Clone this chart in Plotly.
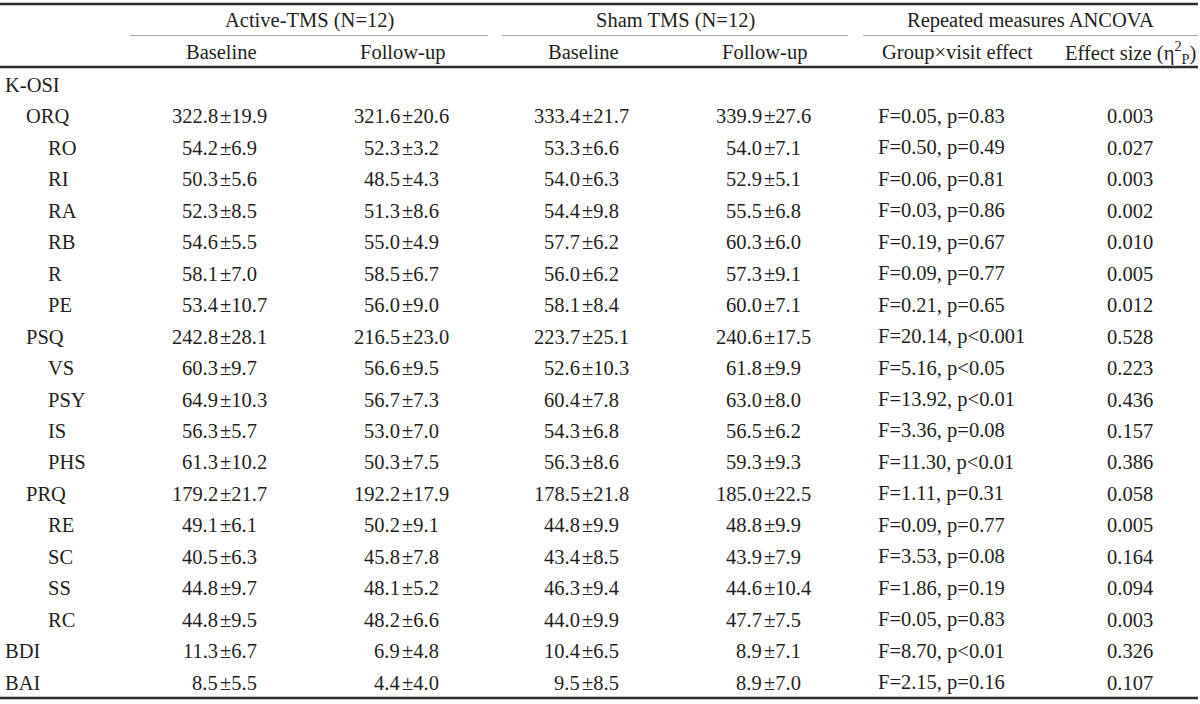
import plotly.graph_objects as go

# ---------------- data ----------------
row_labels = ["K-OSI", "ORQ", "RO", "RI", "RA", "RB", "R", "PE", "PSQ", "VS", "PSY",
              "IS", "PHS", "PRQ", "RE", "SC", "SS", "RC", "BDI", "BAI"]
row_levels = [0, 1, 2, 2, 2, 2, 2, 2, 1, 2, 2, 2, 2, 1, 2, 2, 2, 2, 0, 0]

active_base_mean = [None, 322.8, 54.2, 50.3, 52.3, 54.6, 58.1, 53.4, 242.8, 60.3, 64.9, 56.3, 61.3, 179.2, 49.1, 40.5, 44.8, 44.8, 11.3, 8.5]
active_base_sd   = [None, 19.9, 6.9, 5.6, 8.5, 5.5, 7.0, 10.7, 28.1, 9.7, 10.3, 5.7, 10.2, 21.7, 6.1, 6.3, 9.7, 9.5, 6.7, 5.5]
active_fu_mean   = [None, 321.6, 52.3, 48.5, 51.3, 55.0, 58.5, 56.0, 216.5, 56.6, 56.7, 53.0, 50.3, 192.2, 50.2, 45.8, 48.1, 48.2, 6.9, 4.4]
active_fu_sd     = [None, 20.6, 3.2, 4.3, 8.6, 4.9, 6.7, 9.0, 23.0, 9.5, 7.3, 7.0, 7.5, 17.9, 9.1, 7.8, 5.2, 6.6, 4.8, 4.0]
sham_base_mean   = [None, 333.4, 53.3, 54.0, 54.4, 57.7, 56.0, 58.1, 223.7, 52.6, 60.4, 54.3, 56.3, 178.5, 44.8, 43.4, 46.3, 44.0, 10.4, 9.5]
sham_base_sd     = [None, 21.7, 6.6, 6.3, 9.8, 6.2, 6.2, 8.4, 25.1, 10.3, 7.8, 6.8, 8.6, 21.8, 9.9, 8.5, 9.4, 9.9, 6.5, 8.5]
sham_fu_mean     = [None, 339.9, 54.0, 52.9, 55.5, 60.3, 57.3, 60.0, 240.6, 61.8, 63.0, 56.5, 59.3, 185.0, 48.8, 43.9, 44.6, 47.7, 8.9, 8.9]
sham_fu_sd       = [None, 27.6, 7.1, 5.1, 6.8, 6.0, 9.1, 7.1, 17.5, 9.9, 8.0, 6.2, 9.3, 22.5, 9.9, 7.9, 10.4, 7.5, 7.1, 7.0]
f_values         = [None, 0.05, 0.50, 0.06, 0.03, 0.19, 0.09, 0.21, 20.14, 5.16, 13.92, 3.36, 11.30, 1.11, 0.09, 3.53, 1.86, 0.05, 8.70, 2.15]
p_texts          = [None, "=0.83", "=0.49", "=0.81", "=0.86", "=0.67", "=0.77", "=0.65", "<0.001", "<0.05", "<0.01",
                    "=0.08", "<0.01", "=0.31", "=0.77", "=0.08", "=0.19", "=0.83", "<0.01", "=0.16"]
effect_sizes     = [None, 0.003, 0.027, 0.003, 0.002, 0.010, 0.005, 0.012, 0.528, 0.223, 0.436, 0.157, 0.386,
                    0.058, 0.005, 0.164, 0.094, 0.003, 0.326, 0.107]

group_headers = ["Active-TMS (N=12)", "Sham TMS (N=12)", "Repeated measures ANCOVA"]
sub_headers = ["Baseline", "Follow-up", "Baseline", "Follow-up", "Group×visit effect",
               "Effect size (η<sup>2</sup><sub>P</sub>)"]

# ---------------- layout constants ----------------
W, H = 1200, 704
FONT = "Liberation Serif"
FS = 20.5
COLOR = "#231f20"

group_spans = [(130, 488), (502, 848), (863, 1198)]
sub_centers = [221, 402, 583, 764, 957, 1130]
pm_x = [219, 401, 581, 763]
label_x = [4, 25, 47]
f_left = 877
y_h1, y_h2 = 20, 52
y_row0, row_step = 85, 31.45

fig = go.Figure()
fig.add_trace(go.Scatter(x=[0, W], y=[0, H], mode="markers",
                         marker=dict(opacity=0), hoverinfo="skip", showlegend=False))

ann = []

def add(text, x, y, anchor="center"):
    ann.append(dict(text=text, x=x, y=y, xref="x", yref="y", xanchor=anchor,
                    yanchor="middle", showarrow=False, borderpad=0,
                    font=dict(family=FONT, size=FS, color=COLOR)))

for (x0, x1), t in zip(group_spans, group_headers):
    add(t, (x0 + x1) / 2, y_h1)
for cx, t in zip(sub_centers, sub_headers):
    add(t, cx, y_h2)

mean_cols = [active_base_mean, active_fu_mean, sham_base_mean, sham_fu_mean]
sd_cols = [active_base_sd, active_fu_sd, sham_base_sd, sham_fu_sd]

for i, lab in enumerate(row_labels):
    y = y_row0 + row_step * i
    add(lab, label_x[row_levels[i]], y, "left")
    if active_base_mean[i] is None:
        continue
    for c in range(4):
        add(f"{mean_cols[c][i]:.1f}", pm_x[c], y, "right")
        add(f"±{sd_cols[c][i]:.1f}", pm_x[c], y, "left")
    add(f"F={f_values[i]:.2f}, p{p_texts[i]}", f_left, y, "left")
    add(f"{effect_sizes[i]:.3f}", sub_centers[5], y)

shapes = []
def hline(x0, x1, y, w, col):
    shapes.append(dict(type="line", xref="x", yref="y", x0=x0, x1=x1, y0=y, y1=y,
                       line=dict(color=col, width=w)))

hline(0, 1198, 4, 2.5, "#2b2b2b")
hline(0, 1198, 67, 2.5, "#2b2b2b")
hline(0, 1198, 698, 2.5, "#2b2b2b")
for x0, x1 in group_spans:
    hline(x0, x1, 35.5, 1.2, "#a8a8a8")

fig.update_layout(
    width=W, height=H, margin=dict(l=0, r=0, t=0, b=0),
    paper_bgcolor="white", plot_bgcolor="white",
    xaxis=dict(range=[0, W], visible=False, fixedrange=True),
    yaxis=dict(range=[H, 0], visible=False, fixedrange=True),
    annotations=ann, shapes=shapes, showlegend=False,
)

fig.write_html("out.html", config={"displayModeBar": False},
               post_script="document.body.style.margin='0';document.body.style.padding='0';")
